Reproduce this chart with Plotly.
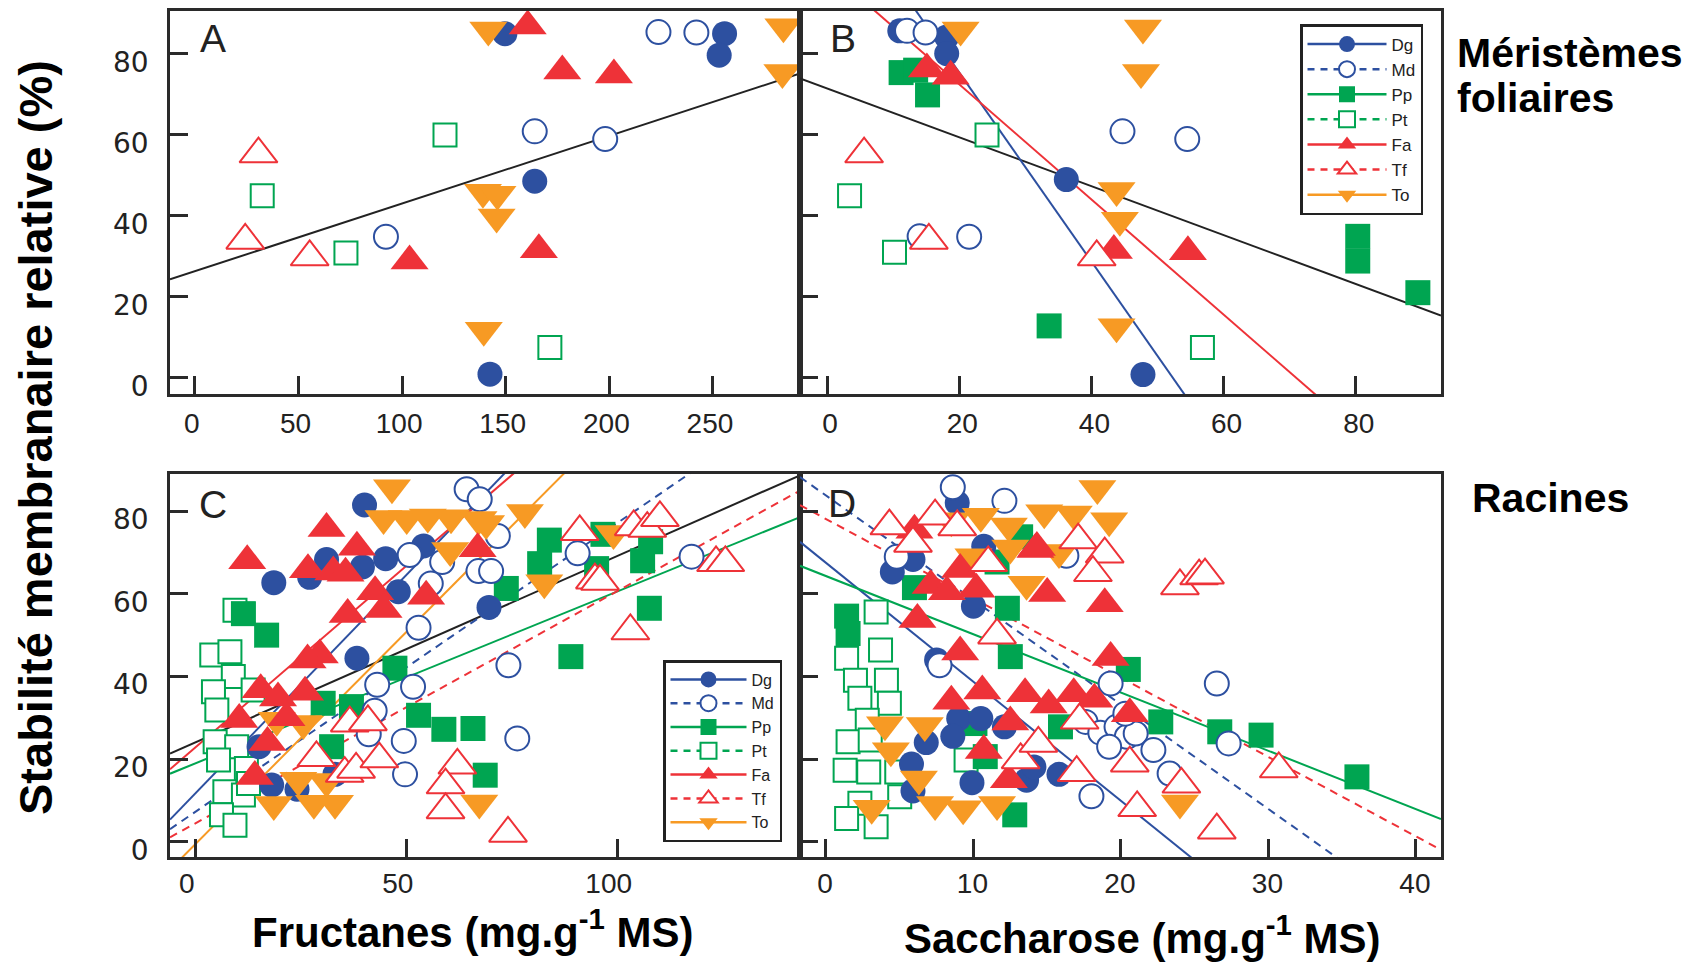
import plotly.graph_objects as go

# ---------------- data ----------------
species = ["Dg", "Md", "Pp", "Pt", "Fa", "Tf", "To"]

# Panel A : Fructanes, méristèmes foliaires
a_dg_x = [149.6, 255.6, 253.0, 164.0, 142.4]
a_dg_y = [84.8, 84.8, 79.5, 48.4, 0.8]
a_md_x = [223.7, 242.0, 164.0, 198.0, 92.2]
a_md_y = [85.2, 85.1, 60.7, 58.8, 34.7]
a_pp_x = []
a_pp_y = []
a_pt_x = [120.7, 32.5, 72.9, 171.3]
a_pt_y = [59.8, 44.8, 30.7, 7.4]
a_fa_x = [160.6, 177.3, 202.2, 103.6, 166.0]
a_fa_y = [86.7, 75.6, 74.6, 28.7, 31.5]
a_tf_x = [30.7, 24.3, 55.4]
a_tf_y = [55.1, 33.8, 29.7]
a_to_x = [141.6, 284.0, 283.5, 139.0, 146.0, 145.6, 139.4]
a_to_y = [85.7, 86.5, 75.2, 45.7, 45.2, 39.6, 11.6]

# Panel B : Saccharose, méristèmes foliaires
b_dg_x = [11.0, 18.1, 18.1, 36.2, 47.8]
b_dg_y = [85.5, 84.0, 79.9, 48.8, 0.7]
b_md_x = [12.1, 14.9, 44.7, 54.5, 14.0, 21.5]
b_md_y = [85.5, 85.1, 60.7, 58.8, 34.8, 34.7]
b_pp_x = [11.2, 13.4, 15.2, 80.3, 80.3, 89.4, 33.6]
b_pp_y = [75.2, 75.8, 69.7, 34.8, 28.7, 20.9, 12.7]
b_pt_x = [24.2, 3.4, 10.2, 56.8]
b_pt_y = [59.8, 44.8, 30.9, 7.4]
b_fa_x = [15.1, 18.7, 43.4, 54.6]
b_fa_y = [76.1, 74.3, 31.3, 31.0]
b_tf_x = [5.6, 15.4, 40.8]
b_tf_y = [55.1, 33.8, 29.7]
b_to_x = [20.2, 47.8, 47.5, 43.8, 44.3, 43.8]
b_to_y = [85.7, 86.2, 75.2, 46.1, 38.8, 12.5]

# Panel C : Fructanes, racines
c_dg_x = [40.0, 18.5, 27.0, 31.0, 39.5, 45.0, 54.0, 48.0, 69.5, 38.2, 15.0, 18.0, 24.0, 33.0]
c_dg_y = [81.5, 62.7, 64.0, 68.3, 66.5, 68.5, 71.6, 60.5, 56.7, 44.4, 23.0, 13.7, 12.7, 16.3]
c_md_x = [64.2, 67.3, 71.6, 50.7, 58.4, 67.0, 55.7, 52.8, 74.1, 43.0, 51.5, 76.2, 42.4, 49.3, 49.6, 41.0, 90.5, 117.5, 70.0]
c_md_y = [85.3, 82.9, 74.0, 69.4, 67.7, 65.5, 62.5, 51.8, 42.7, 38.0, 37.5, 25.0, 31.7, 24.4, 16.3, 26.0, 69.8, 69.0, 65.5]
c_pp_x = [11.3, 16.8, 47.2, 52.8, 58.8, 65.7, 30.2, 36.9, 32.2, 68.6, 83.8, 81.5, 73.6, 96.5, 95.0, 105.9, 107.8, 107.5, 88.9]
c_pp_y = [55.2, 50.0, 42.0, 30.6, 27.2, 27.4, 33.5, 32.7, 23.0, 16.1, 73.0, 67.3, 61.3, 74.4, 66.1, 68.0, 72.6, 56.5, 44.8]
c_pt_x = [9.3, 3.8, 8.1, 8.9, 4.2, 13.6, 5.0, 4.6, 9.7, 12.0, 5.4, 6.9, 11.3, 6.1, 9.3, 12.5]
c_pt_y = [56.0, 45.2, 46.0, 40.0, 36.3, 36.7, 31.9, 24.2, 23.0, 17.7, 19.8, 12.1, 11.3, 6.5, 4.0, 14.1]
c_fa_x = [31.0, 12.2, 26.6, 32.6, 38.2, 35.5, 42.5, 36.0, 44.5, 54.6, 66.8, 29.4, 26.5, 15.4, 19.5, 10.3, 25.9, 17.0, 14.0, 21.5]
c_fa_y = [75.8, 68.0, 65.8, 65.3, 71.3, 65.0, 60.5, 55.0, 56.2, 59.4, 70.9, 45.2, 44.0, 36.8, 34.8, 29.6, 36.2, 24.0, 15.8, 30.0]
c_tf_x = [91.0, 103.8, 107.0, 110.0, 94.6, 95.8, 103.0, 123.3, 125.5, 74.0, 36.5, 40.8, 28.6, 35.3, 38.0, 43.5, 62.0, 59.2, 59.2]
c_tf_y = [75.0, 76.2, 75.8, 78.4, 63.3, 63.0, 51.0, 67.5, 67.5, 2.0, 28.7, 29.0, 20.3, 16.5, 17.5, 20.0, 18.5, 13.7, 7.7]
c_to_x = [46.5, 44.5, 50.0, 55.0, 60.5, 67.0, 78.0, 68.8, 60.3, 82.6, 99.0, 19.2, 25.5, 24.3, 18.5, 28.0, 33.0, 67.2, 31.0]
c_to_y = [85.7, 78.2, 78.2, 78.6, 78.4, 78.0, 79.7, 77.0, 70.5, 62.7, 74.6, 29.4, 28.6, 14.9, 9.0, 9.3, 9.3, 9.4, 14.6]

# Panel D : Saccharose, racines
d_dg_x = [8.9, 10.7, 5.9, 4.5, 10.0, 7.5, 9.0, 10.5, 6.8, 8.6, 5.8, 9.9, 13.6, 5.9, 15.8, 14.1, 12.1]
d_dg_y = [82.0, 71.5, 68.3, 65.3, 57.0, 44.0, 29.8, 29.8, 24.0, 25.5, 18.8, 14.3, 14.9, 12.3, 16.3, 18.1, 27.8]
d_md_x = [8.6, 12.1, 4.8, 16.3, 7.7, 19.3, 17.6, 18.6, 19.7, 20.4, 19.2, 18.0, 26.5, 21.0, 22.2, 23.3, 27.3, 20.3]
d_md_y = [85.8, 82.5, 69.0, 69.2, 42.7, 38.3, 29.0, 26.4, 27.8, 25.4, 23.0, 11.0, 38.3, 26.2, 22.2, 16.5, 23.8, 31.0]
d_pp_x = [1.4, 1.5, 6.0, 12.3, 12.5, 13.2, 11.6, 10.1, 12.8, 20.5, 15.9, 10.8, 22.7, 26.7, 29.5, 36.0]
d_pp_y = [54.6, 50.4, 61.5, 56.5, 44.8, 73.8, 67.7, 28.6, 6.5, 41.7, 27.8, 20.6, 29.0, 26.6, 25.8, 15.7]
d_pt_x = [3.4, 3.7, 1.4, 2.0, 4.1, 2.3, 4.3, 2.8, 1.5, 3.0, 1.3, 2.9, 4.8, 5.0, 2.3, 1.4, 3.4, 9.5]
d_pt_y = [55.6, 46.4, 44.4, 39.1, 39.1, 34.7, 33.5, 29.4, 24.2, 24.6, 17.3, 16.9, 16.9, 10.9, 9.3, 5.6, 3.6, 19.8]
d_fa_x = [6.0, 9.1, 7.1, 8.2, 10.2, 14.2, 14.3, 15.0, 6.2, 18.9, 9.1, 19.3, 8.5, 10.6, 13.5, 15.1, 16.8, 18.2, 20.6, 12.5, 10.7, 12.4]
d_fa_y = [75.4, 65.9, 62.0, 60.5, 61.1, 70.7, 71.2, 60.1, 53.8, 57.6, 45.9, 44.6, 34.0, 36.5, 35.8, 33.1, 35.8, 34.5, 31.0, 29.0, 22.1, 15.0]
d_tf_x = [4.3, 7.4, 8.9, 5.9, 11.0, 17.1, 18.9, 18.1, 11.6, 17.2, 17.0, 13.2, 14.4, 24.0, 25.3, 25.7, 20.6, 21.1, 24.1, 26.5, 30.7]
d_tf_y = [76.4, 78.8, 76.2, 72.2, 67.5, 73.0, 69.6, 65.1, 50.0, 29.4, 16.7, 19.8, 23.8, 61.9, 64.3, 64.5, 19.0, 8.2, 13.9, 2.8, 17.6]
d_to_x = [18.4, 8.5, 10.5, 12.4, 14.8, 16.8, 19.2, 10.0, 12.5, 13.6, 15.8, 4.0, 4.4, 6.7, 6.3, 7.4, 9.3, 11.6, 3.1, 24.0]
d_to_y = [85.5, 77.7, 78.8, 76.4, 79.6, 79.3, 77.7, 69.0, 71.1, 62.3, 70.0, 28.3, 22.0, 28.1, 15.2, 9.0, 8.0, 9.0, 8.1, 9.4]

# Regression lines (group, slope, intercept) per panel
reg_a_group = ["All"]
reg_a_slope = [0.167]
reg_a_icpt = [26.2]
reg_b_group = ["All", "Dg", "Fa"]
reg_b_slope = [-0.603, -2.33, -1.42]
reg_b_icpt = [71.3, 121.8, 100.7]
reg_c_group = ["All", "Pp", "Tf", "Md", "Dg", "Fa", "To"]
reg_c_slope = [0.451, 0.416, 0.562, 0.699, 1.057, 0.879, 1.027]
reg_c_icpt = [24.1, 19.0, 4.5, 7.3, 11.8, 22.9, -0.5]
reg_d_group = ["Dg", "Md", "Pp", "Tf"]
reg_d_slope = [-2.88, -2.53, -1.41, -1.92]
reg_d_icpt = [67.5, 83.8, 64.3, 78.1]

y_ticks = [0, 20, 40, 60, 80]
xa_ticks = [0, 50, 100, 150, 200, 250]
xb_ticks = [0, 20, 40, 60, 80]
xc_ticks = [0, 50, 100]
xd_ticks = [0, 10, 20, 30, 40]

# ---------------- styles ----------------
BLUE = "#2D50A0"
GREEN = "#00A551"
RED = "#EE3238"
ORANGE = "#F79A24"
FRAME = "#2a2a2a"

style = {
    "Dg": dict(color=BLUE, symbol="circle", filled=True, dash="solid", size=25),
    "Md": dict(color=BLUE, symbol="circle", filled=False, dash="dash", size=24),
    "Pp": dict(color=GREEN, symbol="square", filled=True, dash="solid", size=25),
    "Pt": dict(color=GREEN, symbol="square", filled=False, dash="dash", size=23),
    "Fa": dict(color=RED, symbol="triangle-up", filled=True, dash="solid", size=33),
    "Tf": dict(color=RED, symbol="triangle-up", filled=False, dash="dash", size=33),
    "To": dict(color=ORANGE, symbol="triangle-down", filled=True, dash="solid", size=33),
    "All": dict(color="#222222", dash="solid"),
}

panels = {
    "A": dict(xa="x", ya="y", data={
        "Dg": (a_dg_x, a_dg_y), "Md": (a_md_x, a_md_y), "Pp": (a_pp_x, a_pp_y),
        "Pt": (a_pt_x, a_pt_y), "Fa": (a_fa_x, a_fa_y), "Tf": (a_tf_x, a_tf_y),
        "To": (a_to_x, a_to_y)}, reg=(reg_a_group, reg_a_slope, reg_a_icpt),
        xr=[-12, 292], yr=[-4.1, 90.4]),
    "B": dict(xa="x2", ya="y2", data={
        "Dg": (b_dg_x, b_dg_y), "Md": (b_md_x, b_md_y), "Pp": (b_pp_x, b_pp_y),
        "Pt": (b_pt_x, b_pt_y), "Fa": (b_fa_x, b_fa_y), "Tf": (b_tf_x, b_tf_y),
        "To": (b_to_x, b_to_y)}, reg=(reg_b_group, reg_b_slope, reg_b_icpt),
        xr=[-4.1, 92.9], yr=[-4.1, 90.4]),
    "C": dict(xa="x3", ya="y3", data={
        "Dg": (c_dg_x, c_dg_y), "Md": (c_md_x, c_md_y), "Pp": (c_pp_x, c_pp_y),
        "Pt": (c_pt_x, c_pt_y), "Fa": (c_fa_x, c_fa_y), "Tf": (c_tf_x, c_tf_y),
        "To": (c_to_x, c_to_y)}, reg=(reg_c_group, reg_c_slope, reg_c_icpt),
        xr=[-6.1, 143.2], yr=[-3.7, 89.0]),
    "D": dict(xa="x4", ya="y4", data={
        "Dg": (d_dg_x, d_dg_y), "Md": (d_md_x, d_md_y), "Pp": (d_pp_x, d_pp_y),
        "Pt": (d_pt_x, d_pt_y), "Fa": (d_fa_x, d_fa_y), "Tf": (d_tf_x, d_tf_y),
        "To": (d_to_x, d_to_y)}, reg=(reg_d_group, reg_d_slope, reg_d_icpt),
        xr=[-1.76, 41.7], yr=[-3.7, 89.0]),
}

draw_order = ["Pt", "Pp", "Dg", "Md", "To", "Fa", "Tf"]


def marker_for(sp):
    s = style[sp]
    if s["filled"]:
        return dict(symbol=s["symbol"], size=s["size"], color=s["color"],
                    line=dict(width=0, color=s["color"]))
    return dict(symbol=s["symbol"], size=s["size"], color="white",
                line=dict(width=2, color=s["color"]))


fig = go.Figure()

for name, p in panels.items():
    groups, slopes, icpts = p["reg"]
    for g, b, a in zip(groups, slopes, icpts):
        xs = [p["xr"][0], p["xr"][1]]
        ys = [a + b * xv for xv in xs]
        fig.add_trace(go.Scatter(
            x=xs, y=ys, xaxis=p["xa"], yaxis=p["ya"], mode="lines",
            line=dict(color=style[g]["color"], width=2,
                      dash="8px,6px" if style[g]["dash"] == "dash" else "solid"),
            showlegend=False, hoverinfo="skip"))
    for sp in draw_order:
        xs, ys = p["data"][sp]
        if not xs:
            continue
        fig.add_trace(go.Scatter(
            x=xs, y=ys, xaxis=p["xa"], yaxis=p["ya"], mode="markers",
            marker=marker_for(sp), cliponaxis=False, showlegend=False,
            name=sp))

# legend entries (two legends, one in B and one in C)
for leg, xa, ya in [("legend", "x2", "y2"), ("legend2", "x3", "y3")]:
    for sp in species:
        s = style[sp]
        fig.add_trace(go.Scatter(
            x=[None], y=[None], xaxis=xa, yaxis=ya, mode="lines+markers",
            name=sp, legend=leg,
            line=dict(color=s["color"], width=2.5,
                      dash="7px,6px" if s["dash"] == "dash" else "solid"),
            marker=marker_for(sp)))

W, H = 1694, 965


def px(v):
    return v / W


def py(v):
    return 1 - v / H


dom_x_left = [px(170), px(800)]
dom_x_right = [px(800), px(1441)]
dom_y_top = [py(394), py(11)]
dom_y_bot = [py(857), py(474)]

axis_common = dict(showline=True, linecolor=FRAME, linewidth=2.5, mirror=True,
                   ticks="inside", ticklen=18, tickwidth=2.5, tickcolor=FRAME,
                   showgrid=False, zeroline=False, automargin=False)
xfont = dict(family="Liberation Sans, Arial", size=28, color="#222")
yfont = dict(family="DejaVu Sans, Verdana", size=28, color="#222")

fig.update_layout(
    width=W, height=H, margin=dict(l=0, r=0, t=0, b=0, autoexpand=False),
    paper_bgcolor="white", plot_bgcolor="white",
    xaxis=dict(domain=dom_x_left, anchor="y", range=panels["A"]["xr"], tickvals=xa_ticks,
               tickfont=xfont, ticklabelstandoff=3, ticklabelshift=-3, **axis_common),
    yaxis=dict(domain=dom_y_top, anchor="x", range=panels["A"]["yr"], tickvals=y_ticks,
               tickfont=yfont, ticklabelstandoff=13, ticklabelshift=9, **axis_common),
    xaxis2=dict(domain=dom_x_right, anchor="y2", range=panels["B"]["xr"], tickvals=xb_ticks,
                tickfont=xfont, ticklabelstandoff=3, ticklabelshift=3, **axis_common),
    yaxis2=dict(domain=dom_y_top, anchor="x2", range=panels["B"]["yr"], tickvals=y_ticks,
                showticklabels=False, **axis_common),
    xaxis3=dict(domain=dom_x_left, anchor="y3", range=panels["C"]["xr"], tickvals=xc_ticks,
                tickfont=xfont, ticklabelstandoff=0, ticklabelshift=-9, **axis_common),
    yaxis3=dict(domain=dom_y_bot, anchor="x3", range=panels["C"]["yr"], tickvals=y_ticks,
                tickfont=yfont, ticklabelstandoff=13, ticklabelshift=8, **axis_common),
    xaxis4=dict(domain=dom_x_right, anchor="y4", range=panels["D"]["xr"], tickvals=xd_ticks,
                tickfont=xfont, ticklabelstandoff=0, ticklabelshift=-1, **axis_common),
    yaxis4=dict(domain=dom_y_bot, anchor="x4", range=panels["D"]["yr"], tickvals=y_ticks,
                showticklabels=False, **axis_common),
    legend=dict(x=px(1300), y=py(24), xanchor="left", yanchor="top",
                bgcolor="white", bordercolor="#222", borderwidth=2.5,
                font=dict(family="Liberation Sans", size=17, color="#222"),
                itemwidth=79, tracegroupgap=0, itemclick=False),
    legend2=dict(x=px(663), y=py(660), xanchor="left", yanchor="top",
                 bgcolor="white", bordercolor="#222", borderwidth=2.5,
                 font=dict(family="Liberation Sans", size=16, color="#222"),
                 itemwidth=76, tracegroupgap=0, itemclick=False),
)

title_font = dict(family="Liberation Sans, Arial", size=42, color="black", weight="bold")
ytitle_font = dict(family="Liberation Sans, Arial", size=47, color="black", weight="bold")
label_font = dict(family="Liberation Sans, Arial", size=41, color="black", weight="bold")
letter_font = dict(family="Liberation Sans, Arial", size=39, color="#222")

panel_letters = ["A", "B", "C", "D"]
letter_px = [(213, 38), (843, 38), (213, 504), (842, 503)]
ann = []
for t, (lx, ly) in zip(panel_letters, letter_px):
    ann.append(dict(text=t, x=px(lx), y=py(ly), xref="paper", yref="paper",
                    showarrow=False, xanchor="center", yanchor="middle", font=letter_font))

ann += [
    dict(text="Fructanes (mg.g<sup>-1</sup> MS)", x=px(473), y=py(929), xref="paper",
         yref="paper", showarrow=False, xanchor="center", yanchor="middle", font=title_font),
    dict(text="Saccharose (mg.g<sup>-1</sup> MS)", x=px(1142), y=py(935), xref="paper",
         yref="paper", showarrow=False, xanchor="center", yanchor="middle", font=title_font),
    dict(text="Stabilité membranaire relative (%)", x=px(36), y=py(438), xref="paper",
         yref="paper", showarrow=False, xanchor="center", yanchor="middle", textangle=-90,
         font=ytitle_font),
    dict(text="Méristèmes", x=px(1455), y=py(53), xref="paper", yref="paper",
         showarrow=False, xanchor="left", yanchor="middle", font=label_font),
    dict(text="foliaires", x=px(1455), y=py(98), xref="paper", yref="paper",
         showarrow=False, xanchor="left", yanchor="middle", font=label_font),
    dict(text="Racines", x=px(1470), y=py(498), xref="paper", yref="paper",
         showarrow=False, xanchor="left", yanchor="middle", font=label_font),
]
fig.update_layout(annotations=ann)

fig.write_html("out.html")
